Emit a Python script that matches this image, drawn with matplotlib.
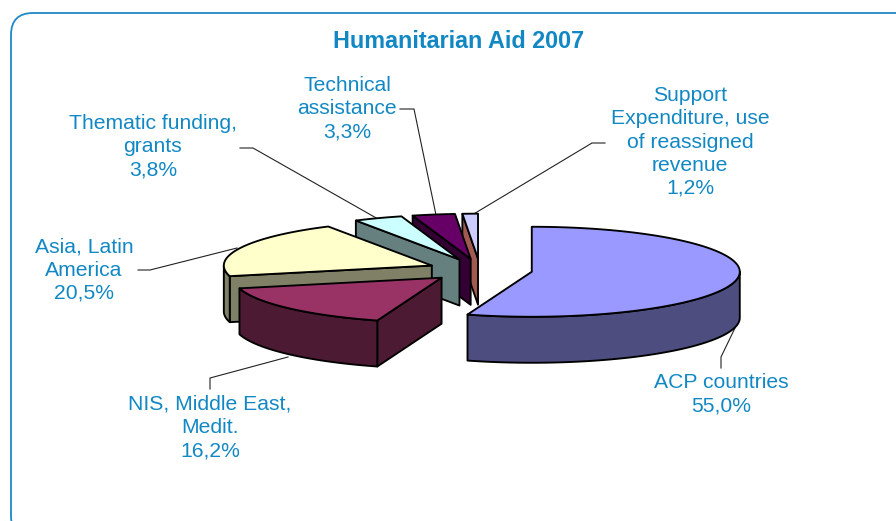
import numpy as np
import matplotlib
matplotlib.use("Agg")
import matplotlib.pyplot as plt
from matplotlib.patches import Polygon, FancyBboxPatch

plt.rcParams['font.family'] = ['Liberation Sans', 'DejaVu Sans']

title = "Humanitarian Aid 2007"
categories = ["ACP countries", "NIS, Middle East,\nMedit.", "Asia, Latin\nAmerica",
              "Thematic funding,\ngrants", "Technical\nassistance",
              "Support\nExpenditure, use\nof reassigned\nrevenue"]
values = [55.0, 16.2, 20.5, 3.8, 3.3, 1.2]
top_colors = ["#9999FF", "#993366", "#FFFFCC", "#CCFFFF", "#660066", "#CCCCFF"]
wall_colors = ["#4D4D80", "#4D1A33", "#808066", "#668080", "#330033", "#A05A50"]
draw_order = [5, 4, 3, 2, 1, 0]

label_xy = [(721, 394.5), (210, 427.5), (84, 270), (153, 147), (347, 109), (690, 142)]
leaders = [[(721, 368), (721, 357), (735, 328)],
           [(210, 389), (210, 378), (288, 357)],
           [(138, 270), (150, 270), (237, 248)],
           [(240, 148), (253, 148), (378, 219)],
           [(400, 109), (414, 109), (436, 215)],
           [(605, 143), (592, 143), (472, 215)]]

TEXT = "#1188C4"
CX, CY, RX, RY, DEPTH, EXPLODE = 480.0, 270.0, 208.0, 45.0, 46.0, 0.252

fig = plt.figure(figsize=(8.96, 5.21), dpi=100, facecolor="white")
ax = fig.add_axes([0, 0, 1, 1])
ax.set_xlim(0, 896)
ax.set_ylim(521, 0)
ax.axis("off")

ax.add_patch(FancyBboxPatch((11, 13), 1000, 525, boxstyle="round,pad=0,rounding_size=22",
                            fc="white", ec="#2088C4", lw=1.3, clip_on=True, zorder=0))

edge = dict(ec="black", lw=1.35, joinstyle="round")
angles = np.concatenate([[0], np.cumsum(values)]) / sum(values) * 360.0


def pt(a, r=1.0):
    t = np.radians(a)
    return np.array([r * RX * np.sin(t), -r * RY * np.cos(t)])


def arc(a0, a1):
    t = np.linspace(a0, a1, max(int(abs(a1 - a0)) * 2, 2))
    return np.array([pt(x) for x in t])


for z, i in enumerate(draw_order):
    a0, a1 = angles[i], angles[i + 1]
    apex = np.array([CX, CY]) + pt((a0 + a1) / 2, EXPLODE)
    down = np.array([0, DEPTH])
    zb = 10 + z * 5
    # side facing the viewer at the start edge
    if np.sin(np.radians(a0)) < 0:
        p = apex + pt(a0)
        ax.add_patch(Polygon([p, apex, apex + down, p + down], fc=wall_colors[i], zorder=zb, **edge))
    # rim, only where it faces the viewer
    lo, hi = max(a0, 90), min(a1, 270)
    if lo < hi:
        r = apex + arc(lo, hi)
        ax.add_patch(Polygon(np.vstack([r, (r + down)[::-1]]), fc=wall_colors[i], zorder=zb + 1, **edge))
    ax.add_patch(Polygon(np.vstack([[apex], apex + arc(a0, a1)]), fc=top_colors[i], zorder=zb + 2, **edge))

for pts in leaders:
    xs, ys = zip(*pts)
    ax.plot(xs, ys, color="#222222", lw=0.8, zorder=5)

for name, v, (x, y) in zip(categories, values, label_xy):
    pct = f"{v:.1f}%".replace(".", ",")
    ax.text(x, y, f"{name}\n{pct}", ha="center", va="center",
            color=TEXT, fontsize=15.2, linespacing=1.28, zorder=60)

ax.text(459, 41, title, ha="center", va="center", color=TEXT, fontsize=16.8, fontweight="bold", zorder=60)

fig.savefig("out.png", dpi=100)
